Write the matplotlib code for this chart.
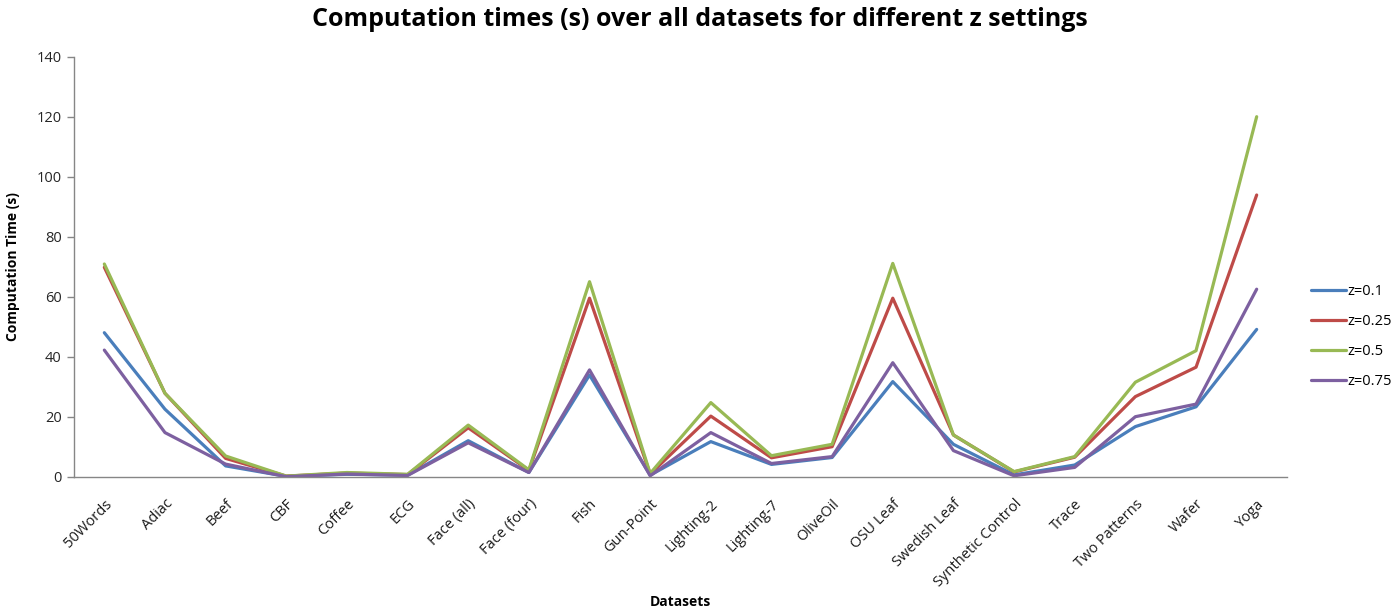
import matplotlib
matplotlib.use("Agg")
import matplotlib.pyplot as plt
import numpy as np

plt.rcParams['font.family'] = ['Open Sans', 'DejaVu Sans']

datasets = ["50Words", "Adiac", "Beef", "CBF", "Coffee", "ECG", "Face (all)",
            "Face (four)", "Fish", "Gun-Point", "Lighting-2", "Lighting-7",
            "OliveOil", "OSU Leaf", "Swedish Leaf", "Synthetic Control",
            "Trace", "Two Patterns", "Wafer", "Yoga"]

z_010 = [48.1, 22.6, 3.7, 0.2, 0.9, 0.6, 12.1, 1.5, 34.0, 0.6, 11.8, 4.2,
         6.5, 31.8, 10.9, 0.7, 4.0, 16.8, 23.4, 49.2]
z_025 = [69.9, 27.9, 6.2, 0.3, 1.3, 0.8, 16.4, 2.2, 59.6, 1.0, 20.3, 6.4,
         10.1, 59.6, 14.0, 1.7, 6.6, 26.8, 36.6, 94.0]
z_050 = [71.0, 27.9, 7.0, 0.3, 1.5, 0.9, 17.3, 2.4, 65.1, 1.2, 24.8, 7.1,
         10.9, 71.2, 14.0, 1.8, 6.8, 31.6, 42.1, 120.1]
z_075 = [42.3, 14.8, 4.3, 0.1, 1.0, 0.5, 11.4, 1.5, 35.7, 0.4, 14.8, 4.5,
         6.8, 38.1, 8.8, 0.4, 3.2, 20.1, 24.3, 62.6]

series = [("z=0.1", z_010, "#4A7EBB"),
          ("z=0.25", z_025, "#BE4B48"),
          ("z=0.5", z_050, "#98B954"),
          ("z=0.75", z_075, "#7D60A0")]

y_ticks = [0, 20, 40, 60, 80, 100, 120, 140]

fig = plt.figure(figsize=(14, 6.16), dpi=100)
ax = fig.add_axes([74 / 1400, 139 / 616, 1213 / 1400, 420 / 616])

x = np.arange(len(datasets))
for name, vals, color in series:
    ax.plot(x, vals, color=color, lw=2.3, label=name, solid_joinstyle='round',
            solid_capstyle='round')

ax.set_xlim(-0.5, len(datasets) - 0.5)
ax.set_ylim(0, 140)
ax.set_yticks(y_ticks)
ax.set_yticklabels([str(t) for t in y_ticks], fontsize=10.5, color="#262626")
ax.set_xticks(x)
ax.set_xticklabels(datasets, rotation=45, ha='right', rotation_mode='anchor',
                   fontsize=10.5, color="#1a1a1a")
ax.tick_params(axis='x', length=0, pad=14)
ax.tick_params(axis='y', length=5, color="#868686", width=1, pad=4)

for side in ("top", "right"):
    ax.spines[side].set_visible(False)
for side in ("left", "bottom"):
    ax.spines[side].set_color("#868686")
    ax.spines[side].set_linewidth(1)

ax.set_ylabel("Computation Time (s)", fontsize=10, fontweight='bold', labelpad=12)
fig.text(680 / 1400, 1 - 602 / 616, "Datasets", fontsize=10, fontweight='bold',
         ha='center', va='center')
fig.text(700 / 1400, 1 - 20 / 616,
         "Computation times (s) over all datasets for different z settings",
         fontsize=18, fontweight='bold', ha='center', va='center')

leg = fig.legend(loc='upper left', bbox_to_anchor=(1311 / 1400, 1 - 284 / 616),
                 frameon=False, fontsize=10.5, handlelength=2.4, borderpad=0,
                 borderaxespad=0, labelspacing=1.02, handletextpad=0.1)

fig.savefig("out.png", dpi=100, facecolor="white")
